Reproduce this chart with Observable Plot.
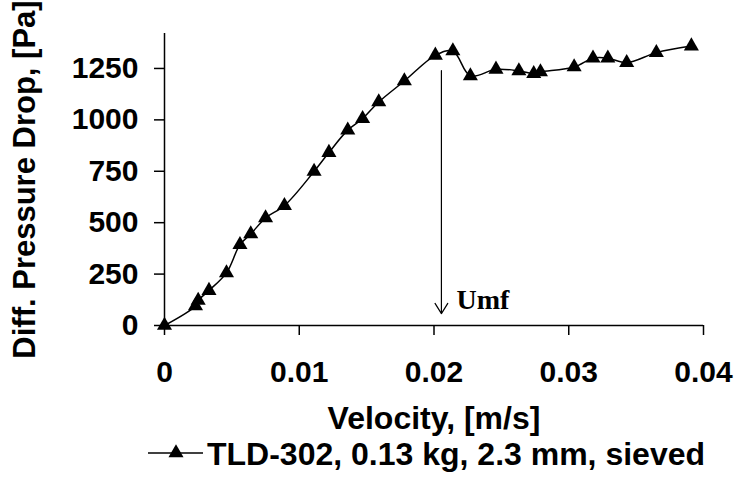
<!DOCTYPE html>
<html>
<head>
<meta charset="utf-8">
<script src="https://cdn.jsdelivr.net/npm/d3@7"></script>
<script src="https://cdn.jsdelivr.net/npm/@observablehq/plot@0.6"></script>
<style>
  html, body { margin: 0; padding: 0; background: #fff; }
  #chart { width: 736px; }
  #chart svg { display: block; }
  g[aria-label^="y-axis"] text, g[aria-label^="x-axis"] text, #legend text {
    font-family: "Liberation Sans", Arial, sans-serif; font-weight: bold; fill: #000;
  }
  g[aria-label="y-axis tick label"] text, g[aria-label="x-axis tick label"] text { font-size: 30px; }
  g[aria-label="y-axis label"] text { font-size: 31px; }
  g[aria-label="x-axis label"] text { font-size: 32px; }
  #legend { position: relative; height: 58px; margin-top: -10px; }
  #legend svg { background: transparent; }
</style>
</head>
<body>
<div id="chart"></div>
<script>
// Data
const velocity = [0, 0.0023, 0.0025, 0.0033, 0.0046, 0.0056, 0.0064, 0.0075, 0.0089, 0.0111, 0.0122, 0.0136, 0.0147, 0.0159, 0.0178, 0.0201, 0.0214, 0.0227, 0.0246, 0.0263, 0.0274, 0.0279, 0.0304, 0.0318, 0.0329, 0.0343, 0.0365, 0.0391];
const pressure = [0, 95, 122, 170, 256, 393, 445, 523, 583, 749, 841, 950, 1006, 1087, 1189, 1314, 1335, 1214, 1246, 1238, 1225, 1233, 1257, 1300, 1300, 1278, 1327, 1359];
const xTicks = [0, 0.01, 0.02, 0.03, 0.04];
const xTickLabels = ["0", "0.01", "0.02", "0.03", "0.04"];
const yTicks = [0, 250, 500, 750, 1000, 1250];
const yTickLabels = ["0", "250", "500", "750", "1000", "1250"];
const umfVelocity = [0.02055];
const umfArrowFrom = [1239];
const umfArrowTo = [58];
const umfLabel = ["Umf"];
const seriesName = "TLD-302, 0.13 kg, 2.3 mm, sieved";
const xTitle = "Velocity, [m/s]";
const yTitle = "Diff. Pressure Drop, [Pa]";

const data = velocity.map((v, i) => ({v, p: pressure[i]}));
const umf = umfVelocity.map((v, i) => ({v, from: umfArrowFrom[i], to: umfArrowTo[i], label: umfLabel[i]}));

const plot = Plot.plot({
  width: 736,
  height: 440,
  marginLeft: 164,
  marginRight: 33,
  marginTop: 33,
  marginBottom: 115,
  style: {background: "#fff", color: "#000"},
  x: {domain: [0, 0.04]},
  y: {domain: [0, 1420]},
  marks: [
    Plot.axisX({ticks: xTicks, tickFormat: (d) => xTickLabels[xTicks.indexOf(d)], tickSize: 10, tickPadding: 25, strokeWidth: 1.5,
      label: xTitle, labelAnchor: "center", labelOffset: 103, labelArrow: "none"}),
    Plot.axisY({ticks: yTicks, tickFormat: (d) => yTickLabels[yTicks.indexOf(d)], tickSize: 10, tickPadding: 16, strokeWidth: 1.5,
      label: yTitle, labelAnchor: "center", labelOffset: 152, labelArrow: "none"}),
    Plot.ruleX([0], {stroke: "#000", strokeWidth: 1.5}),
    Plot.ruleY([0], {stroke: "#000", strokeWidth: 1.5}),
    Plot.line(data, {x: "v", y: "p", curve: "catmull-rom", stroke: "#000", strokeWidth: 1.5}),
    Plot.dot(data, {x: "v", y: "p", symbol: "triangle", r: 5.6, fill: "#000", stroke: "none"}),
    Plot.arrow(umf, {x1: "v", y1: "from", x2: "v", y2: "to", stroke: "#000", strokeWidth: 1.2, headAngle: 64, headLength: 15}),
    Plot.text(umf, {x: "v", y: "to", text: "label", textAnchor: "start", lineAnchor: "bottom", dx: 15, dy: -5,
      fontFamily: "Liberation Serif, Times New Roman, serif", fontWeight: "bold", fontSize: 28, fill: "#000"})
  ]
});
document.getElementById("chart").appendChild(plot);

// Legend below the plot
const legend = document.createElement("div");
legend.id = "legend";
const ns = "http://www.w3.org/2000/svg";
const lsvg = document.createElementNS(ns, "svg");
lsvg.setAttribute("width", 736);
lsvg.setAttribute("height", 58);
const sym = d3.symbol(d3.symbolTriangle, Math.PI * 5.6 * 5.6)();
lsvg.innerHTML = `
  <line x1="148" x2="203" y1="23" y2="23" stroke="#000" stroke-width="1.5"></line>
  <path d="${sym}" transform="translate(176,23)" fill="#000"></path>
  <text x="207" y="35" style="font-size:32px">${seriesName}</text>`;
legend.appendChild(lsvg);
document.getElementById("chart").appendChild(legend);
</script>
</body>
</html>
